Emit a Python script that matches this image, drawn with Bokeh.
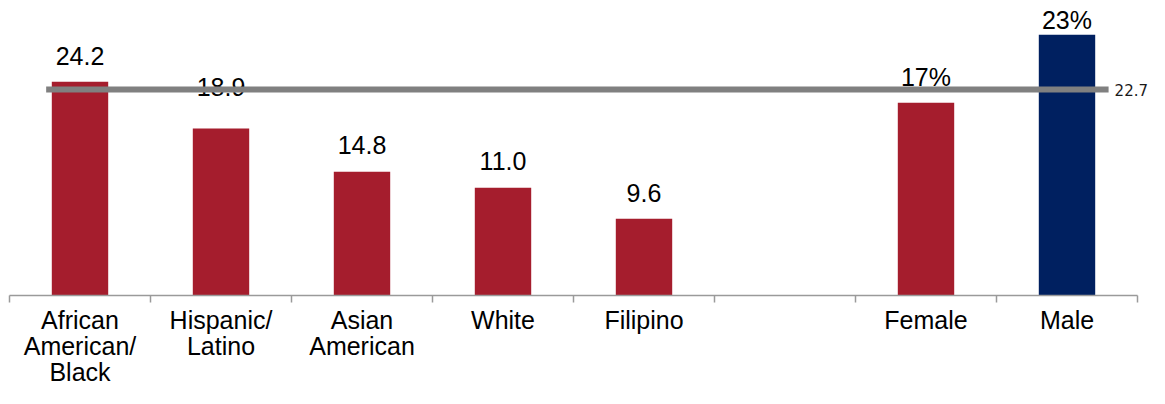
from bokeh.plotting import figure
from bokeh.models import ColumnDataSource, LabelSet, Label, Range1d, FixedTicker
from bokeh.core.properties import value
from bokeh.embed import file_html
from bokeh.resources import INLINE

# ---- data ----
categories = ["African\nAmerican/\nBlack", "Hispanic/\nLatino", "Asian\nAmerican",
              "White", "Filipino", "", "Female", "Male"]
bar_values = [24.2, 18.9, 14.0, 12.2, 8.7, None, 21.8, 29.5]
value_labels = ["24.2", "18.9", "14.8", "11.0", "9.6", None, "17%", "23%"]
average_value = 23.3
average_label = "22.7"

# ---- styles / positions ----
RED = "#A51D2D"
BLUE = "#002060"
bar_colors = [RED, RED, RED, RED, RED, None, RED, BLUE]
label_offsets = [17, 32, 17.5, 18, 17, None, 16.5, 5.5]   # px above bar top
FONT = "Liberation Sans"

W, H = 1149, 388
BORDER_L = 9
FRAME_H = 298
SLOT_PX = 141.0
PX_PER_UNIT = 8.926
n = len(categories)

xs, tops, cols, texts, offs = [], [], [], [], []
for i, v in enumerate(bar_values):
    if v is None:
        continue
    xs.append(i + 0.5)
    tops.append(v)
    cols.append(bar_colors[i])
    texts.append(value_labels[i])
    offs.append(label_offsets[i])
src = ColumnDataSource(dict(x=xs, top=tops, color=cols, text=texts, off=offs))

p = figure(width=W, height=H, output_backend="svg", toolbar_location=None,
           x_range=Range1d(0, (W - BORDER_L) / SLOT_PX),
           y_range=Range1d(0, FRAME_H / PX_PER_UNIT),
           y_axis_location=None, min_border_left=BORDER_L, min_border_right=0,
           min_border_top=0, min_border_bottom=H - FRAME_H)
p.outline_line_color = None
p.grid.visible = False
p.background_fill_color = "white"
p.border_fill_color = "white"

p.vbar(x="x", top="top", width=0.4, color="color", line_color=None, source=src)

labels = LabelSet(x="x", y="top", text="text", y_offset="off", source=src,
                  text_align="center", text_baseline="alphabetic",
                  text_font=value(FONT), text_font_size="25px", text_color="#000000")
p.add_layout(labels)

# average line (drawn above the labels)
line_x0 = 0.5 - 0.2 - 0.04
line_x1 = (n - 0.5) + 0.2 + 0.095
avg = p.line(x=[line_x0, line_x1], y=[average_value, average_value],
             line_color="#808080", line_width=6, line_cap="butt")
avg.level = "overlay"
p.add_layout(Label(x=line_x1, y=average_value, x_offset=6, text=average_label,
                   text_baseline="middle", text_align="left",
                   text_font="DejaVu Sans", text_font_size="15px", text_color="#1a1a1a"))

ax = p.xaxis[0]
ax.ticker = FixedTicker(ticks=[i + 0.5 for i in range(n)], minor_ticks=list(range(n + 1)))
ax.major_label_overrides = {i + 0.5: c for i, c in enumerate(categories)}
ax.bounds = (0, n)
ax.axis_line_color = "#9a9a9a"
ax.axis_line_width = 1.5
ax.major_tick_out = 0
ax.major_tick_in = 0
# boundary ticks drawn outward through a negative "in" length
ax.minor_tick_out = 0
ax.minor_tick_in = -7
ax.minor_tick_line_color = "#9a9a9a"
ax.minor_tick_line_width = 1.5
ax.major_label_standoff = 10
ax.major_label_text_font = FONT
ax.major_label_text_font_size = "25px"
ax.major_label_text_color = "#000000"
ax.major_label_text_line_height = 0.93

open("out.html", "w").write(file_html(p, INLINE))
